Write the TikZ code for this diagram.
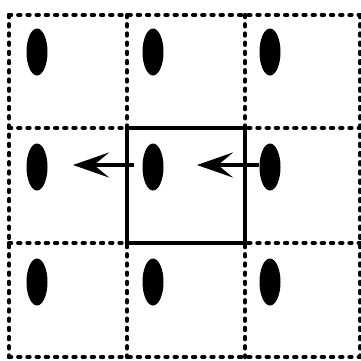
\documentclass[tikz,border=0pt]{standalone}
\usetikzlibrary{arrows.meta,shapes.geometric}
\begin{document}
\begin{tikzpicture}[x=1pt,y=-1pt,
  dotline/.style={line width=4.2pt,line cap=round,dash pattern=on 2.2pt off 7pt},
  blob/.style={ellipse,fill=black,minimum width=21pt,minimum height=47pt,inner sep=0pt},
  frame/.style={line width=3.8pt},
  arr/.style={line width=3.6pt,-{Stealth[length=36pt,width=25pt,inset=15pt]}}]
\useasboundingbox (0,0) rectangle (361,360);
% grid
\foreach \x in {9,127,245,360} \draw[dotline] (\x,15) -- (\x,357);
\foreach \y in {15,128,243,357} \draw[dotline] (9,\y) -- (360,\y);
% bold centre cell
\draw[frame] (127,128) rectangle (245,243);
% blobs
\node[blob] (e11) at (37,52) {};
\node[blob] (e12) at (153,52) {};
\node[blob] (e13) at (270,52) {};
\node[blob] (e21) at (37,167) {};
\node[blob] (e22) at (153,167) {};
\node[blob] (e23) at (270,167) {};
\node[blob] (e31) at (37,282) {};
\node[blob] (e32) at (153,282) {};
\node[blob] (e33) at (270,282) {};
% arrows
\coordinate (s1) at (134,165);
\coordinate (t1) at (73,165);
\coordinate (t2) at (197,165);
\draw[arr] (s1) -- (t1);
\draw[arr] (e23.west |- 0,165) -- (t2);
\end{tikzpicture}
\end{document}
